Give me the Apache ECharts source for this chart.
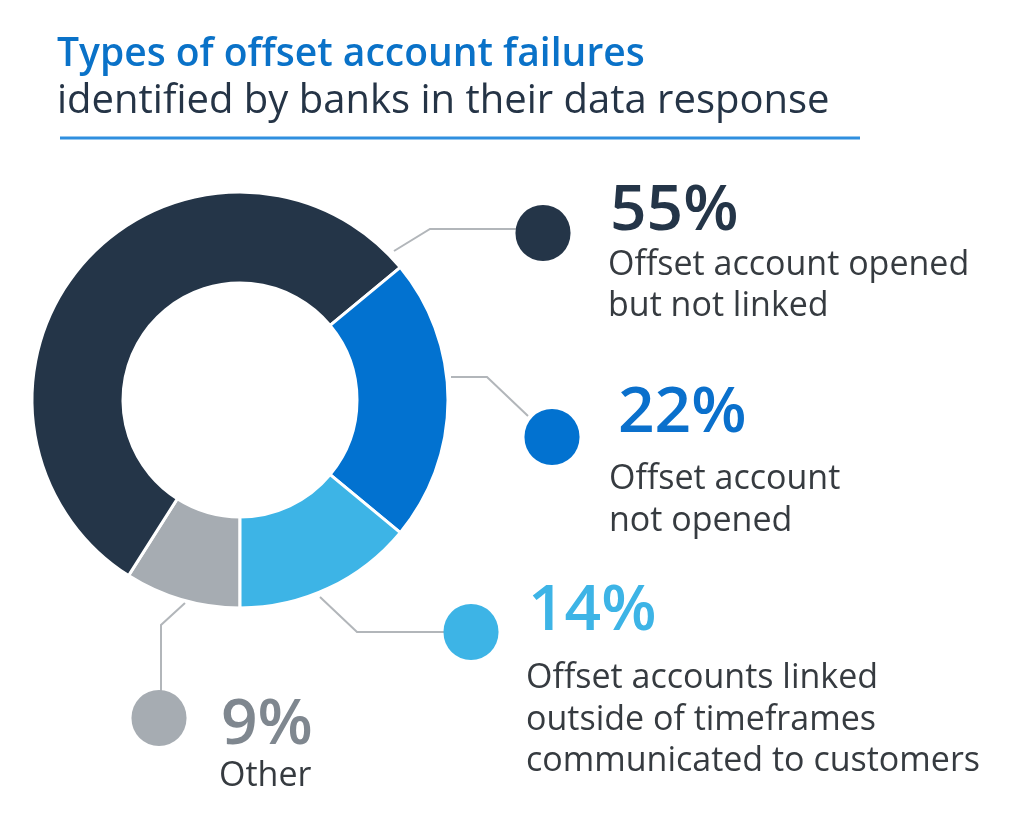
<!DOCTYPE html>
<html>
<head>
<meta charset="utf-8">
<script src="https://cdn.jsdelivr.net/npm/echarts@6/dist/echarts.min.js"></script>
<style>
html,body{margin:0;padding:0;background:#fff;}
#chart{width:1024px;height:828px;}
</style>
</head>
<body>
<div id="chart"></div>
<script>
// ---- data ----
const categories = ['Other', 'Offset account opened but not linked', 'Offset account not opened', 'Offset accounts linked outside of timeframes communicated to customers'];
const values = [9, 55, 22, 14];
const descLines = [
  ['Other'],
  ['Offset account opened', 'but not linked'],
  ['Offset account', 'not opened'],
  ['Offset accounts linked', 'outside of timeframes', 'communicated to customers']
];
const titleText = 'Types of offset account failures';
const subtitleText = 'identified by banks in their data response';

// ---- styles / layout (not data) ----
const sliceColors = ['#a6acb2', '#243548', '#0272d0', '#3db4e6'];
const pctColors = ['#7f878f', '#243548', '#0a70cc', '#3db4e6'];
const dotPos = [[159, 718], [543, 233], [552, 437], [471, 632]];
const leaderPts = [
  [[185, 603], [161, 625], [161, 692]],
  [[394, 251], [430, 229], [517, 229]],
  [[451, 377], [487, 377], [528, 416]],
  [[320, 597], [357, 632], [445, 632]]
];
const textPos = [[219, 695], [608, 178], [609, 370], [526, 566]];
const pctLineH = [61, 67, 88, 92];
const pctPadLeft = [2, 2, 9, 2];
const descLineH = [41, 41, 42, 41.5];

const FONT = '"Open Sans", Lato, sans-serif';

const chart = echarts.init(document.getElementById('chart'));

const dotData = values.map((v, i) => ({
  name: categories[i],
  value: v,
  itemStyle: { color: sliceColors[i] },
  label: {
    formatter: ' ',
    width: 55,
    height: 56,
    borderRadius: 28,
    padding: 0,
    backgroundColor: sliceColors[i]
  }
}));

const textData = values.map((v, i) => ({
  name: categories[i],
  value: v,
  label: {
    formatter: '{p|' + v + '%}\n' + descLines[i].map(s => '{d|' + s + '}').join('\n'),
    rich: {
      p: {
        fontFamily: FONT, fontWeight: 600, fontSize: 64,
        color: pctColors[i], lineHeight: pctLineH[i],
        padding: [0, 0, 0, pctPadLeft[i]]
      },
      d: {
        fontFamily: FONT, fontSize: 34, color: '#363b40',
        lineHeight: descLineH[i]
      }
    }
  }
}));

chart.setOption({
  backgroundColor: '#ffffff',
  animation: false,
  title: {
    text: titleText,
    subtext: subtitleText,
    left: 57,
    top: 33,
    padding: 0,
    itemGap: 3,
    textStyle: { fontFamily: FONT, fontWeight: 600, fontSize: 39, color: '#0a72c8', lineHeight: 44 },
    subtextStyle: { fontFamily: FONT, fontWeight: 500, fontSize: 40, color: '#253446', lineHeight: 44 }
  },
  graphic: [{
    type: 'line',
    shape: { x1: 60, y1: 138, x2: 860, y2: 138 },
    style: { stroke: '#2f8fdf', lineWidth: 3 }
  }],
  series: [
    {
      type: 'pie',
      name: 'slices',
      center: [240, 400],
      radius: [117, 208],
      startAngle: 270,
      clockwise: true,
      avoidLabelOverlap: false,
      emphasis: { disabled: true, scale: false },
      itemStyle: { borderColor: '#ffffff', borderWidth: 3 },
      label: { show: true, position: 'outside' },
      labelLine: { show: true, smooth: false, lineStyle: { color: '#b2b6ba', width: 2 } },
      labelLayout: function (p) {
        const i = p.dataIndex;
        return {
          x: dotPos[i][0], y: dotPos[i][1],
          align: 'center', verticalAlign: 'middle',
          labelLinePoints: leaderPts[i]
        };
      },
      data: dotData
    },
    {
      type: 'pie',
      name: 'labels',
      silent: true,
      center: [240, 400],
      radius: [117, 208],
      startAngle: 270,
      clockwise: true,
      avoidLabelOverlap: false,
      emphasis: { disabled: true, scale: false },
      itemStyle: { color: 'rgba(0,0,0,0)', borderWidth: 0 },
      label: { show: true, position: 'outside' },
      labelLine: { show: false },
      labelLayout: function (p) {
        const i = p.dataIndex;
        return { x: textPos[i][0], y: textPos[i][1], align: 'left', verticalAlign: 'top' };
      },
      data: textData
    }
  ]
});
</script>
</body>
</html>
